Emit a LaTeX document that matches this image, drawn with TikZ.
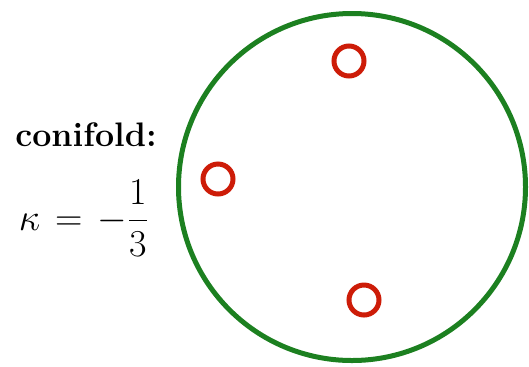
\RequirePackage{fix-cm}
\documentclass[tikz,border=0pt]{standalone}
\usepackage{amsmath}
\usetikzlibrary{positioning}

\definecolor{rimgreen}{RGB}{28,128,32}
\definecolor{holered}{RGB}{205,28,8}

\begin{document}
\begin{tikzpicture}[
  x=0.5pt, y=-0.5pt,
  rim/.style = {draw=rimgreen, line width=2.5pt},
  puncture/.style = {
    draw=holered, circle, line width=2.5pt, inner sep=0pt,
    minimum size=15pt
  },
  caption/.style = {font=\fontsize{17}{20}\selectfont\bfseries},
  formula/.style = {font=\fontsize{19}{22}\selectfont}
]
\useasboundingbox (0,0) rectangle (529,366);

% Surface boundary and the three punctures.
\coordinate (disc) at (352,187);
\draw[rim] (disc) circle[radius=173.5];

\node[puncture] (top) at (349,61) {};
\node[puncture] (left) at (218,179) {};
\node[puncture] (bottom) at (364,300) {};

\node[caption, anchor=base] (name) at (86,146) {conifold:};
\node[formula, anchor=base] (kappa) at (84,230)
  {$\thickmuskip=7mu\relax \kappa = -\dfrac{1}{3}$};

\end{tikzpicture}
\end{document}
